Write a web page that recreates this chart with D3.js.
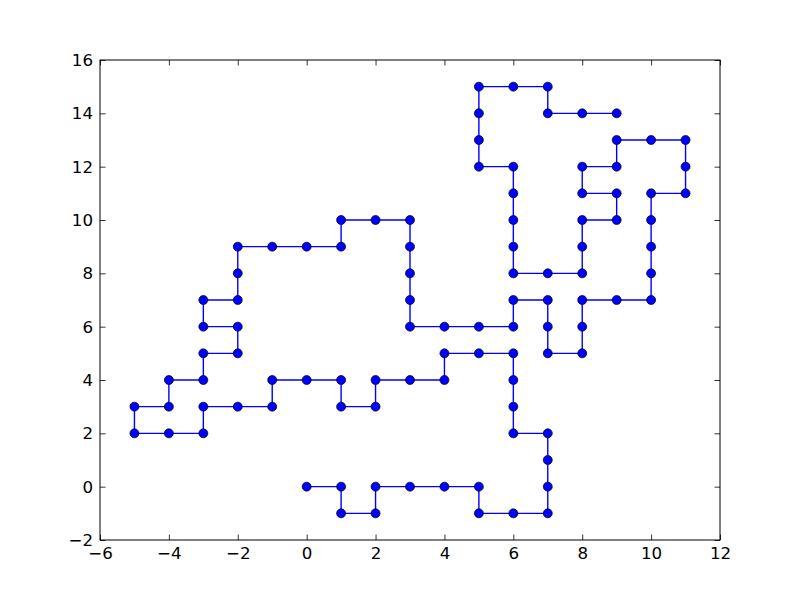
<!DOCTYPE html>
<html><head><meta charset="utf-8">
<script src="https://cdn.jsdelivr.net/npm/d3@7"></script>
<style>body{margin:0;background:#fff}text{font-family:"DejaVu Sans";}</style>
</head><body><svg id="c" width="800" height="600"></svg>
<script>
const xs = [0,1,1,2,2,3,4,5,5,6,7,7,7,7,6,6,6,6,5,4,4,3,2,2,1,1,0,-1,-1,-2,-3,-3,-4,-5,-5,-4,-4,-3,-3,-2,-2,-3,-3,-2,-2,-2,-1,0,1,1,2,3,3,3,3,3,4,5,6,6,7,7,7,8,8,8,9,10,10,10,10,10,11,11,11,10,9,9,8,8,9,9,8,8,8,7,6,6,6,6,6,5,5,5,5,6,7,7,8,9];
const ys = [0,0,-1,-1,0,0,0,0,-1,-1,-1,0,1,2,2,3,4,5,5,5,4,4,4,3,3,4,4,4,3,3,3,2,2,2,3,3,4,4,5,5,6,6,7,7,8,9,9,9,9,10,10,10,9,8,7,6,6,6,6,7,7,6,5,5,6,7,7,7,8,9,10,11,11,12,13,13,13,12,12,11,11,10,10,9,8,8,8,9,10,11,12,12,13,14,15,15,15,14,14,14];
const xTicks = [-6,-4,-2,0,2,4,6,8,10,12];
const yTicks = [-2,0,2,4,6,8,10,12,14,16];

const svg = d3.select('#c');
const L=100,R=720,T=60,B=540;
const x = d3.scaleLinear().domain([-6,12]).range([L,R]);
const y = d3.scaleLinear().domain([-2,16]).range([B,T]);
const pts = xs.map((v,i)=>[v,ys[i]]);

const tl=5.5;
const fs='16.67px';
function styleAxis(g){g.select('.domain').remove();g.selectAll('line').attr('stroke','#000').attr('stroke-width',0.8);g.selectAll('text').style('font-size',fs).style('font-family','DejaVu Sans').attr('fill','#000');}
svg.append('g').attr('transform',`translate(0,${B})`).call(d3.axisBottom(x).tickValues(xTicks).tickSizeInner(-tl).tickSizeOuter(0).tickPadding(7).tickFormat(d=>d<0?'\u2212'+(-d):d)).call(styleAxis);
svg.append('g').attr('transform',`translate(0,${T})`).call(d3.axisTop(x).tickValues(xTicks).tickSizeInner(-tl).tickSizeOuter(0).tickFormat('')).call(styleAxis);
svg.append('g').attr('transform',`translate(${L},0)`).call(d3.axisLeft(y).tickValues(yTicks).tickSizeInner(-tl).tickSizeOuter(0).tickPadding(7).tickFormat(d=>d<0?'\u2212'+(-d):d)).call(styleAxis);
svg.append('g').attr('transform',`translate(${R},0)`).call(d3.axisRight(y).tickValues(yTicks).tickSizeInner(-tl).tickSizeOuter(0).tickFormat('')).call(styleAxis);

svg.append('path').datum(pts).attr('fill','none').attr('stroke','#0000ff').attr('stroke-width',1.4)
  .attr('d',d3.line().x(d=>x(d[0])).y(d=>y(d[1])));
svg.append('g').selectAll('circle').data(pts).join('circle')
  .attr('cx',d=>x(d[0])).attr('cy',d=>y(d[1])).attr('r',4.5)
  .attr('fill','#0000ff').attr('stroke','#000').attr('stroke-width',0.7);
svg.append('rect').attr('x',L).attr('y',T).attr('width',R-L).attr('height',B-T).attr('fill','none').attr('stroke','#000').attr('stroke-width',1);
</script></body></html>
